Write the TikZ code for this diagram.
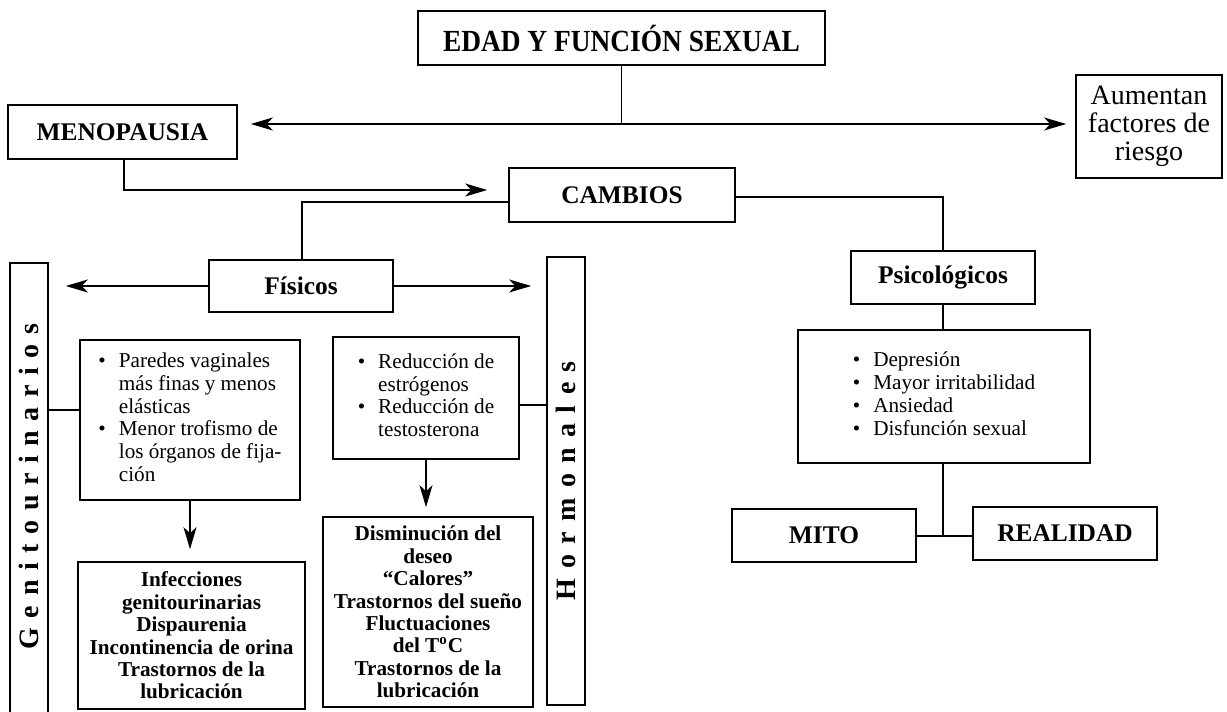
\documentclass[tikz,border=0pt]{standalone}
\usepackage{fontspec}
\setmainfont{Liberation Serif}
\usetikzlibrary{arrows.meta}
\newcommand{\placebox}[7][]{%
  \node[box,#1,minimum width={(#5-#3)*0.5pt},minimum height={(#6-#4)*0.5pt}] (#2) at ({(#3+#5)/2},{(#4+#6)/2}) {#7};}
\begin{document}
\begin{tikzpicture}[x=0.5pt,y=-0.5pt,
  box/.style={draw, line width=0.8pt, inner sep=0pt, align=center, font=\fontsize{10.6}{11.4}\selectfont},
  ttl/.style={font=\fontsize{12.7}{14}\selectfont\bfseries},
  bld/.style={font=\fontsize{10.6}{11.2}\selectfont\bfseries},
  vert/.style={font=\fontsize{14}{16}\selectfont\bfseries, rotate=90},
  conn/.style={line width=0.8pt},
  arr/.style={conn, -{Stealth[length=11pt,width=6.5pt,inset=3pt]}}]
\useasboundingbox (0,0) rectangle (1227,712);
\clip (0,0) rectangle (1227,712);
% boxes
\placebox[font=\fontsize{13.7}{16}\selectfont\bfseries]{EDAD}{418}{11}{825}{65}{\scalebox{1}[1.12]{EDAD Y FUNCIÓN SEXUAL}}
\placebox[ttl]{MENO}{8}{105}{237}{159}{MENOPAUSIA}
\placebox[font=\fontsize{14}{14}\selectfont]{AUM}{1076}{75}{1222}{178}{Aumentan\\factores de\\riesgo}
\placebox[ttl]{CAMB}{509}{168}{735}{222}{CAMBIOS}
\placebox[ttl]{FIS}{209}{260}{393}{312}{Físicos}
\placebox[ttl]{PSI}{851}{251}{1035}{304}{Psicológicos}
\node[box, vert, minimum width={(730-263)*0.5pt}, minimum height={38*0.5pt}] (GEN) at (29,496.5)
  {\hspace*{10pt}G\kern4.8pt e\kern4.8pt n\kern4.8pt i\kern4.8pt t\kern4.8pt o\kern4.8pt u\kern4.8pt r\kern4.8pt i\kern4.8pt n\kern4.8pt a\kern4.8pt r\kern4.8pt i\kern4.8pt o\kern4.8pt s};
\node[box, vert, minimum width={(705-257)*0.5pt}, minimum height={38*0.5pt}] (HOR) at (566,481)
  {H\kern5.2pt o\kern5.2pt r\kern5.2pt m\kern5.2pt o\kern5.2pt n\kern5.2pt a\kern5.2pt l\kern5.2pt e\kern5.2pt s};
\placebox{B1}{80}{340}{300}{500}{\begin{tabular}{@{}c@{\hspace{6.5pt}}l@{}}
\textbullet & Paredes vaginales\\
 & más finas y menos\\
 & elásticas\\
\textbullet & Menor trofismo de\\
 & los órganos de fija-\\
 & ción\end{tabular}}
\placebox[bld]{B2}{78}{562}{305}{709}{Infecciones\\genitourinarias\\Dispaurenia\\Incontinencia de orina\\Trastornos de la\\lubricación}
\placebox{B3}{333}{337}{519}{459}{\begin{tabular}{@{}c@{\hspace{6.5pt}}l@{}}
\textbullet & Reducción de\\
 & estrógenos\\
\textbullet & Reducción de\\
 & testosterona\end{tabular}}
\placebox[bld]{B4}{323}{517}{533}{707}{Disminución del\\deseo\\“Calores”\\Trastornos del sueño\\Fluctuaciones\\del T\textsuperscript{o}C\\Trastornos de la\\lubricación}
\placebox{BUL}{798}{330}{1090}{463}{\begin{tabular}{@{}c@{\hspace{6.5pt}}l@{}}
\textbullet & Depresión\\
\textbullet & Mayor irritabilidad\\
\textbullet & Ansiedad\\
\textbullet & Disfunción sexual\end{tabular}}
\placebox[ttl]{MITO}{732}{509}{916}{562}{MITO}
\placebox[ttl]{REAL}{973}{507}{1157}{560}{REALIDAD}
% connectors
\coordinate (j1) at (622,124);
\draw[conn] (EDAD.south) -- (EDAD.south |- j1);
\draw[arr, shorten >=6.5pt] (EDAD.south |- j1) -- (MENO.east |- j1);
\draw[arr, shorten >=4.5pt] (EDAD.south |- j1) -- (AUM.west |- j1);
\coordinate (m1) at (124,190);
\draw[arr, shorten >=10.5pt] (MENO.south -| m1) -- (m1) -- (CAMB.west |- m1);
\coordinate (c1) at (302,202);
\draw[conn] (CAMB.west |- c1) -- (c1) -- (c1 |- FIS.north);
\coordinate (c2) at (943,197);
\draw[conn] (CAMB.east |- c2) -- (c2) -- (c2 |- PSI.north);
\draw[arr, shorten >=8.5pt] (FIS.west) -- (GEN.south |- FIS.west);
\draw[arr, shorten >=7.5pt] (FIS.east) -- (HOR.north |- FIS.east);
\coordinate (g1) at (0,410);
\draw[conn] (GEN.south |- g1) -- (B1.west |- g1);
\draw[arr, shorten >=6pt] (B1.south) -- (B1.south |- B2.north);
\coordinate (h1) at (0,405);
\draw[conn] (B3.east |- h1) -- (HOR.north |- h1);
\draw[arr, shorten >=4.5pt] (B3.south) -- (B3.south |- B4.north);
\draw[conn] (PSI.south) -- (PSI.south |- BUL.north);
\coordinate (r1) at (943,536);
\draw[conn] (BUL.south -| r1) -- (r1);
\draw[conn] (MITO.east |- r1) -- (REAL.west |- r1);
\end{tikzpicture}
\end{document}
